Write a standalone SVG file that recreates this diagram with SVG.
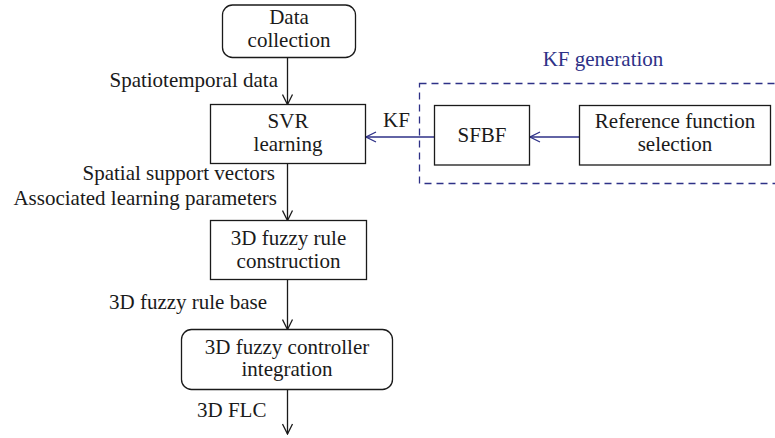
<svg xmlns="http://www.w3.org/2000/svg" width="775" height="438" viewBox="0 0 775 438">
  <style>
    .box { fill: #ffffff; stroke: #1a1a1a; stroke-width: 1.3; }
    .lbl { font-family: "Liberation Serif", "Times New Roman", serif; font-size: 21px; fill: #1a1a1a; }
    .mid { text-anchor: middle; }
    .end { text-anchor: end; }
    .blue { fill: #2e3187; }
    .edge { stroke: #1a1a1a; stroke-width: 1.3; fill: none; }
    .edge-b { stroke: #2e3187; stroke-width: 1.3; fill: none; }
  </style>
  <defs>
    <marker id="vk" viewBox="0 0 12 12" refX="11" refY="6" markerWidth="12" markerHeight="12" markerUnits="userSpaceOnUse" orient="auto">
      <path d="M1,1 L11,6 L1,11" fill="none" stroke="#1a1a1a" stroke-width="1.3"/>
    </marker>
    <marker id="vb" viewBox="0 0 12 12" refX="11" refY="6" markerWidth="12" markerHeight="12" markerUnits="userSpaceOnUse" orient="auto">
      <path d="M1,1 L11,6 L1,11" fill="none" stroke="#2e3187" stroke-width="1.3"/>
    </marker>
  </defs>

  <!-- dashed KF generation frame -->
  <g id="kf-generation">
    <rect x="419.5" y="83.5" width="370" height="100" fill="none" stroke="#2e3187" stroke-width="1.3" stroke-dasharray="7,5"/>
    <text class="lbl mid blue" x="603" y="66">KF generation</text>
  </g>

  <g id="connectors">
    <line class="edge" x1="287.5" y1="57.5" x2="287.5" y2="104.5" marker-end="url(#vk)"/>
    <line class="edge" x1="287.5" y1="163.5" x2="287.5" y2="220.5" marker-end="url(#vk)"/>
    <line class="edge" x1="287.5" y1="279.5" x2="287.5" y2="329.5" marker-end="url(#vk)"/>
    <line class="edge" x1="287.5" y1="389.5" x2="287.5" y2="434" marker-end="url(#vk)"/>
    <line class="edge-b" x1="434.5" y1="137" x2="366" y2="137" marker-end="url(#vb)"/>
    <line class="edge-b" x1="579.5" y1="137" x2="530" y2="137" marker-end="url(#vb)"/>
    <text class="lbl end" x="278" y="87">Spatiotemporal data</text>
    <text class="lbl" x="383" y="127">KF</text>
    <text class="lbl end" x="275" y="180">Spatial support vectors</text>
    <text class="lbl end" x="277" y="205">Associated learning parameters</text>
    <text class="lbl end" x="267" y="309">3D fuzzy rule base</text>
    <text class="lbl" x="197" y="417">3D FLC</text>
  </g>

  <g id="data-collection">
    <rect class="box" x="222.5" y="5" width="133" height="52.5" rx="10"/>
    <text class="lbl mid" x="289" y="24">Data</text>
    <text class="lbl mid" x="289" y="47">collection</text>
  </g>

  <g id="svr-learning">
    <rect class="box" x="210.5" y="104.5" width="155" height="59"/>
    <text class="lbl mid" x="288" y="128">SVR</text>
    <text class="lbl mid" x="288" y="151">learning</text>
  </g>

  <g id="fuzzy-rule-construction">
    <rect class="box" x="210.5" y="220.5" width="156" height="59"/>
    <text class="lbl mid" x="288.5" y="245">3D fuzzy rule</text>
    <text class="lbl mid" x="288.5" y="268">construction</text>
  </g>

  <g id="fuzzy-controller-integration">
    <rect class="box" x="181.5" y="329.5" width="211" height="60" rx="10"/>
    <text class="lbl mid" x="287" y="354">3D fuzzy controller</text>
    <text class="lbl mid" x="287" y="376">integration</text>
  </g>

  <g id="sfbf">
    <rect class="box" x="434.5" y="105.5" width="95" height="59.5"/>
    <text class="lbl mid" x="482" y="142">SFBF</text>
  </g>

  <g id="reference-function-selection">
    <rect class="box" x="579.5" y="105.5" width="191" height="59.5"/>
    <text class="lbl mid" x="675" y="128">Reference function</text>
    <text class="lbl mid" x="675" y="151">selection</text>
  </g>
</svg>
